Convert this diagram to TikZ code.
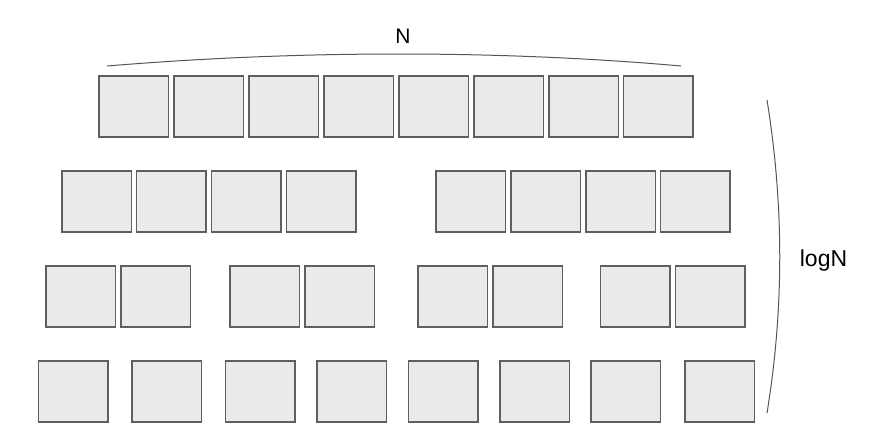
\documentclass[tikz,border=0pt]{standalone}
\usepackage{fontspec}
\setmainfont{Liberation Sans}
\definecolor{boxfill}{HTML}{EAEAEA}
\definecolor{boxline}{HTML}{5F5F5F}
\definecolor{braceline}{HTML}{555555}
\begin{document}
\begin{tikzpicture}[x=1pt,y=-1pt,
  cell/.style={draw=boxline,fill=boxfill,line width=1.4pt,minimum width=69.5pt,minimum height=61pt,inner sep=0pt,outer sep=0pt},
  lbl/.style={inner sep=0pt,font=\fontsize{21}{25}\selectfont},
  bracecurve/.style={draw=braceline,line width=1pt}]
\useasboundingbox (0,0) rectangle (876,440);
% row 1
\foreach \x [count=\i] in {98.5,173.5,248.5,323.5,398.5,473.5,548.5,623}
  \node[cell] (a\i) at (\x+35.3,106.5) {};
% row 2
\foreach \x [count=\i] in {61.5,136,211,286,435.5,510.5,585.5,660}
  \node[cell] (b\i) at (\x+35.3,201.5) {};
% row 3
\foreach \x [count=\i] in {45.5,120.5,229.5,304.5,417.5,492.5,600,675}
  \node[cell] (c\i) at (\x+35.3,296.5) {};
% row 4
\foreach \x [count=\i] in {38,131.5,225,316.5,408,499.5,590.5,684.5}
  \node[cell] (d\i) at (\x+35.3,391.5) {};
% top brace and label
\coordinate (tl) at (107,66);
\coordinate (tr) at (681,66);
\draw[bracecurve] (tl) .. controls (300,50) and (500,50) .. (tr);
\node[lbl] (n) at (403,36.5) {N};
% right brace and label
\coordinate (rt) at (767,100);
\coordinate (rb) at (767,413);
\draw[bracecurve] (rt) .. controls (784,205) and (784,309) .. (rb);
\node[lbl,font=\fontsize{23}{27}\selectfont] (logn) at (823.5,261) {logN};
\end{tikzpicture}
\end{document}
